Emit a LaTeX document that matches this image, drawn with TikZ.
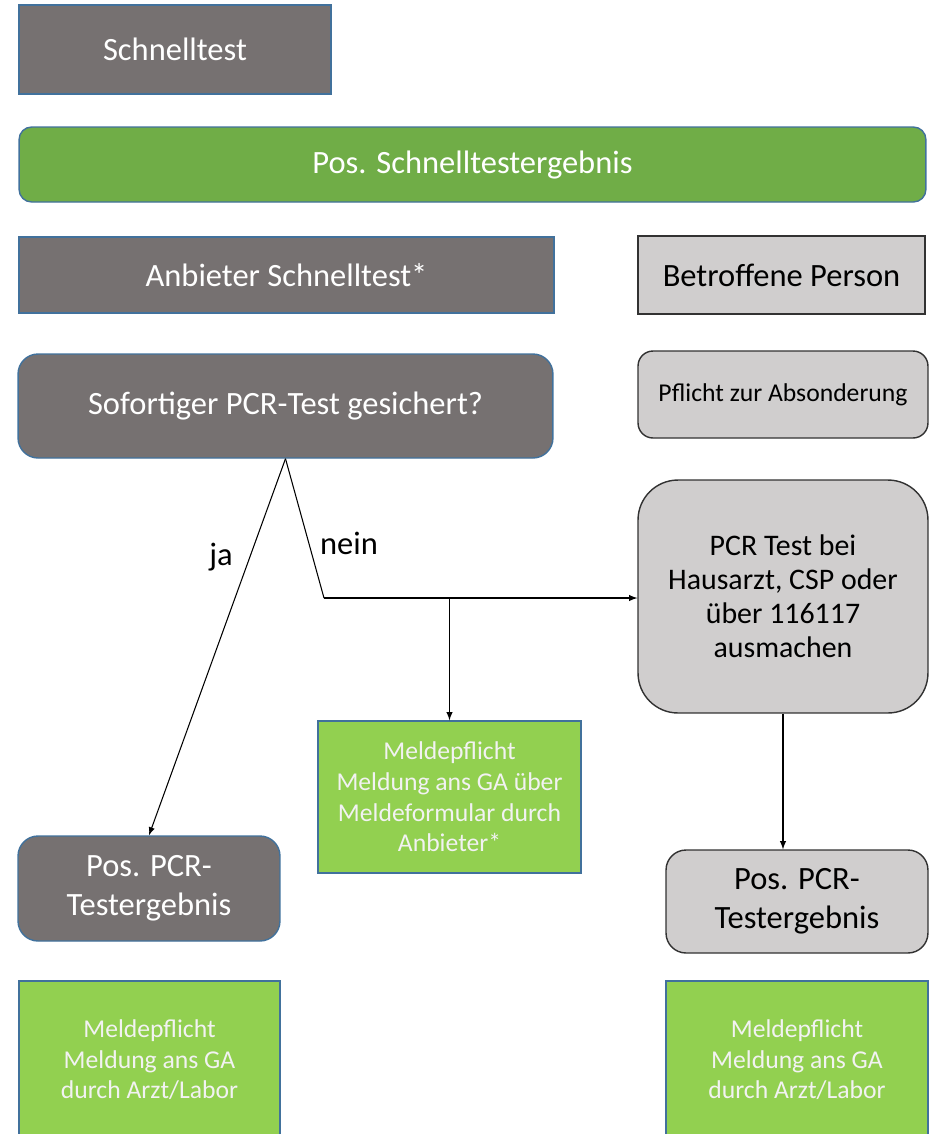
\documentclass[tikz,border=0pt]{standalone}
\usepackage{fontspec}
\setmainfont{Carlito}
\usepackage{xcolor}
\usepackage{tikz}

\definecolor{boxgray}{RGB}{118,113,113}
\definecolor{boxblue}{RGB}{65,113,156}
\definecolor{bargreen}{RGB}{112,173,71}
\definecolor{lightgreen}{RGB}{146,208,80}
\definecolor{lightbox}{RGB}{208,206,206}
\definecolor{lightline}{RGB}{50,50,50}

\begin{document}
\begin{tikzpicture}[x=0.02cm, y=-0.02cm, >=latex, line width=0.6pt,
    bigfont/.style={font=\fontsize{18.5}{22}\selectfont},
    smallfont/.style={font=\fontsize{14.6}{17.4}\selectfont},
    darkbox/.style={draw=boxblue, line width=0.8pt, fill=boxgray, text=white, align=center, inner sep=0pt},
    greenbox/.style={draw=boxblue, line width=0.8pt, fill=lightgreen, text=white!95!black, align=center, inner sep=0pt, smallfont},
    lightbox/.style={draw=lightline, line width=0.8pt, fill=lightbox, text=black, align=center, inner sep=0pt}]
    \useasboundingbox (0,0) rectangle (933,1134);

    % Nodes
    \node (schnell) [darkbox, bigfont, minimum width=6.24cm, minimum height=1.78cm] at (175,49.5) {Schnelltest};
    \node (posschnell) [darkbox, bigfont, fill=bargreen, rounded corners=0.25cm, minimum width=18.14cm, minimum height=1.5cm] at (472.5,164.5) {Pos. Schnelltestergebnis};
    \node (anbieter) [darkbox, bigfont, minimum width=10.7cm, minimum height=1.52cm] at (286.5,275) {Anbieter Schnelltest*};
    \node (betroffen) [lightbox, bigfont, minimum width=5.74cm, minimum height=1.56cm] at (781.5,275) {Betroffene Person};
    \node (sofort) [darkbox, bigfont, rounded corners=0.4cm, minimum width=10.7cm, minimum height=2.08cm] at (285.5,406) {Sofortiger PCR-Test gesichert?};
    \node (pflicht) [lightbox, smallfont, rounded corners=0.3cm, minimum width=5.8cm, minimum height=1.74cm] at (783,394.5) {Pflicht zur Absonderung};
    \node (pcr) [lightbox, font=\fontsize{17}{19.4}\selectfont, rounded corners=0.8cm, minimum width=5.8cm, minimum height=4.66cm] at (783,596.5) {PCR Test bei\\Hausarzt, CSP oder\\über 116117\\ausmachen};
    \node (meldmid) [greenbox, minimum width=5.26cm, minimum height=3.04cm] at (449.5,797) {Meldepflicht\\Meldung ans GA über\\Meldeformular durch\\Anbieter*};
    \node (posleft) [darkbox, bigfont, rounded corners=0.4cm, minimum width=5.24cm, minimum height=2.1cm] at (149,888.5) {Pos. PCR-\\Testergebnis};
    \node (posright) [lightbox, bigfont, rounded corners=0.4cm, minimum width=5.24cm, minimum height=2.06cm] at (797,901.5) {Pos. PCR-\\Testergebnis};
    \node (meldleft) [greenbox, minimum width=5.22cm, minimum height=3.16cm] at (149.5,1060) {Meldepflicht\\Meldung ans GA\\durch Arzt/Labor};
    \node (meldright) [greenbox, minimum width=5.24cm, minimum height=3.16cm] at (797,1060) {Meldepflicht\\Meldung ans GA\\durch Arzt/Labor};
    \node (ja) [bigfont] at (221,557) {ja};
    \node (nein) [bigfont] at (349,543) {nein};
    \coordinate (knee) at (324,598);

    % Edges
    \draw[->] (sofort.south) -- (posleft.north);
    \draw (sofort.south) -- (knee);
    \draw[->] (knee) -- (knee -| pcr.west);
    \draw[->] (knee -| meldmid.north) -- (meldmid.north);
    \draw[->] (pcr.south) -- (pcr.south |- posright.north);
\end{tikzpicture}
\end{document}
